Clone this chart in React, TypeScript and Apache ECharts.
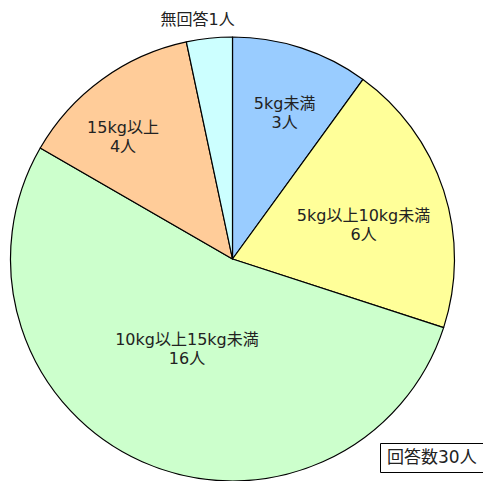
import React, { useEffect, useRef } from "react";
import * as echarts from "echarts";

const categories = ["5kg未満", "5kg以上10kg未満", "10kg以上15kg未満", "15kg以上", "無回答"];
const values = [3, 6, 16, 4, 1];
const colors = ["#99CCFF", "#FFFF99", "#CCFFCC", "#FFCC99", "#CCFFFF"];
const totalLabel = "回答数30人";

// label placement: radial fraction and angle shift (degrees)
const labelDist = [0.7, 0.61, 0.455, 0.74, 1.09];
const labelShift = [1.6, 3.4, 2.8, -5.8, -2.3];

const CX = 232.5;
const CY = 259;
const R = 222;
const FONT = "'DejaVu Sans', 'Noto Sans CJK JP', sans-serif";

export default function App() {
  const ref = useRef<HTMLDivElement>(null);
  useEffect(() => {
    if (!ref.current) return;
    const chart = echarts.init(ref.current, undefined, { renderer: "svg" });
    const total = values.reduce((a, b) => a + b, 0);
    const mids: number[] = [];
    let acc = 0;
    values.forEach((v) => {
      mids.push(((acc + v / 2) / total) * 360);
      acc += v;
    });
    chart.setOption({
      animation: false,
      backgroundColor: "#ffffff",
      series: [
        {
          type: "pie",
          center: [CX, CY],
          radius: R,
          startAngle: 90,
          clockwise: true,
          avoidLabelOverlap: false,
          data: categories.map((c, i) => ({
            name: c,
            value: values[i],
            itemStyle: { color: colors[i] },
          })),
          itemStyle: { borderColor: "#000", borderWidth: 1.2 },
          emphasis: { disabled: true },
          label: {
            show: true,
            position: "inside",
            color: "#222",
            fontFamily: FONT,
            fontSize: 16,
            lineHeight: 19,
            align: "center",
            formatter: (p: any) =>
              p.dataIndex === 4 ? `${p.name}${p.value}人` : `${p.name}\n${p.value}人`,
          },
          labelLine: { show: false },
          labelLayout: (p: any) => {
            const i = p.dataIndex;
            const a = ((mids[i] + labelShift[i]) * Math.PI) / 180;
            const d = R * labelDist[i];
            return {
              x: CX + d * Math.sin(a),
              y: CY - d * Math.cos(a),
              align: "center",
              verticalAlign: "middle",
            };
          },
        },
      ],
      graphic: [
        {
          type: "rect",
          left: 380,
          top: 443,
          shape: { width: 120, height: 29 },
          style: { fill: "#fff", stroke: "#000", lineWidth: 1 },
        },
        {
          type: "text",
          left: 387,
          top: 448,
          style: { text: totalLabel, fontSize: 17, fontFamily: FONT, fill: "#222" },
        },
      ],
    });
    return () => chart.dispose();
  }, []);
  return (
    <div
      ref={ref}
      style={{ position: "fixed", left: 0, top: 0, width: 483, height: 481 }}
    />
  );
}
